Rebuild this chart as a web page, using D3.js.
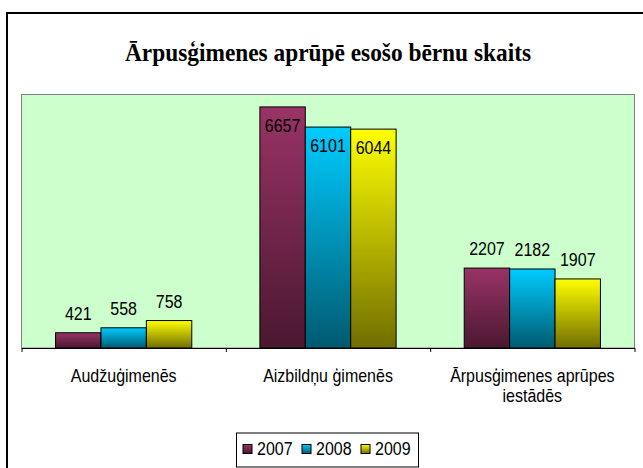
<!DOCTYPE html>
<html>
<head>
<meta charset="utf-8">
<script src="https://cdn.jsdelivr.net/npm/d3@7"></script>
<style>
  body { margin: 0; background: #fff; }
  svg { display: block; }
  text { font-family: "Liberation Sans", Arial, sans-serif; fill: #000; }
</style>
</head>
<body>
<svg id="chart" width="643" height="468"></svg>
<script>
var title = "Ārpusģimenes aprūpē esošo bērnu skaits";
var categories = ["Audžuģimenēs", "Aizbildņu ģimenēs", "Ārpusģimenes aprūpes\niestādēs"];
var years = ["2007", "2008", "2009"];
var values2007 = [421, 6657, 2207];
var values2008 = [558, 6101, 2182];
var values2009 = [758, 6044, 1907];
var seriesValues = [values2007, values2008, values2009];
var colors = ["#993366", "#00ccff", "#ffff00"];
var darkColors = ["#4a1830", "#005a70", "#706e00"];

var svg = d3.select("#chart");
var plotLeft = 21.5, plotRight = 634.5, plotTop = 94.5, plotBottom = 348;
var stretch = 1.14; // text in the source is a bit taller than wide

function place(x, y) {
    return "translate(" + x + "," + y + ") scale(1," + stretch + ")";
}

// gradients
var defs = svg.append("defs");
years.forEach(function(y, i) {
    var g = defs.append("linearGradient").attr("id", "grad" + i)
        .attr("x1", 0).attr("y1", 0).attr("x2", 0).attr("y2", 1);
    g.append("stop").attr("offset", "0%").attr("stop-color", colors[i]);
    g.append("stop").attr("offset", "100%").attr("stop-color", darkColors[i]);
});

// chart frame (right and bottom edges fall outside the window)
svg.append("rect")
    .attr("x", 7).attr("y", 13)
    .attr("width", 700).attr("height", 500)
    .attr("fill", "#fff").attr("stroke", "#000").attr("stroke-width", 2);

svg.append("text")
    .attr("x", 328).attr("y", 61)
    .attr("text-anchor", "middle")
    .attr("textLength", 406).attr("lengthAdjust", "spacingAndGlyphs")
    .style("font-family", "'Liberation Serif', 'Times New Roman', serif")
    .style("font-weight", "bold").style("font-size", "26px")
    .text(title);

// plot area
svg.append("rect")
    .attr("x", plotLeft).attr("y", plotTop)
    .attr("width", plotRight - plotLeft).attr("height", plotBottom - plotTop)
    .attr("fill", "#ccffcc").attr("stroke", "#808080").attr("stroke-width", 1);

var x0 = d3.scaleBand().domain(categories).range([plotLeft, plotRight]).paddingInner(0).paddingOuter(0);
var x1 = d3.scaleBand().domain(years).range([0, x0.bandwidth()]).paddingInner(0).paddingOuter(0.75);
var y = d3.scaleLinear().domain([0, 7000]).range([plotBottom, plotTop]);

var groups = svg.append("g").selectAll("g")
    .data(categories)
    .enter().append("g")
    .attr("transform", function(d) { return "translate(" + x0(d) + ",0)"; });

groups.each(function(cat, ci) {
    var g = d3.select(this);
    var data = years.map(function(yr, si) { return { year: yr, si: si, value: seriesValues[si][ci] }; });
    g.selectAll("rect").data(data).enter().append("rect")
        .attr("x", function(d) { return x1(d.year); })
        .attr("y", function(d) { return y(d.value); })
        .attr("width", x1.bandwidth())
        .attr("height", function(d) { return plotBottom - y(d.value); })
        .attr("fill", function(d) { return "url(#grad" + d.si + ")"; })
        .attr("stroke", "#000").attr("stroke-width", 1);
    g.selectAll("text.lbl").data(data).enter().append("text")
        .attr("class", "lbl")
        .attr("transform", function(d) {
            var ly = d.value > 5000 ? y(d.value) + 25 : y(d.value) - 13;
            return place(x1(d.year) + x1.bandwidth() / 2, ly);
        })
        .attr("text-anchor", "middle")
        .style("font-size", "16px")
        .text(function(d) { return d.value; });
});

// x axis with ticks on category boundaries
var xb = d3.scaleLinear().domain([0, categories.length]).range([plotLeft, plotRight]);
var axis = svg.append("g")
    .attr("transform", "translate(0," + plotBottom + ")")
    .call(d3.axisBottom(xb).tickValues(d3.range(categories.length + 1)).tickSize(4).tickSizeOuter(0).tickFormat(""));
axis.select(".domain").attr("stroke", "#000");
axis.selectAll(".tick line").attr("stroke", "#000");

// category labels
categories.forEach(function(c) {
    var cx = x0(c) + x0.bandwidth() / 2;
    c.split("\n").forEach(function(line, i) {
        svg.append("text")
            .attr("transform", place(cx, 382 + i * 20))
            .attr("text-anchor", "middle")
            .style("font-size", "16px")
            .text(line);
    });
});

// legend
var legend = svg.append("g");
legend.append("rect")
    .attr("x", 236.5).attr("y", 433)
    .attr("width", 182).attr("height", 34)
    .attr("fill", "#fff").attr("stroke", "#000").attr("stroke-width", 1);
var items = legend.selectAll("g.item").data(years).enter().append("g")
    .attr("class", "item")
    .attr("transform", function(d, i) { return "translate(" + (243 + i * 59) + ",444.5)"; });
items.append("rect")
    .attr("width", 9).attr("height", 9)
    .attr("fill", function(d, i) { return "url(#grad" + i + ")"; })
    .attr("stroke", "#000").attr("stroke-width", 1);
items.append("text")
    .attr("transform", place(14, 10.5))
    .style("font-size", "16px")
    .text(function(d) { return d; });
</script>
</body>
</html>
